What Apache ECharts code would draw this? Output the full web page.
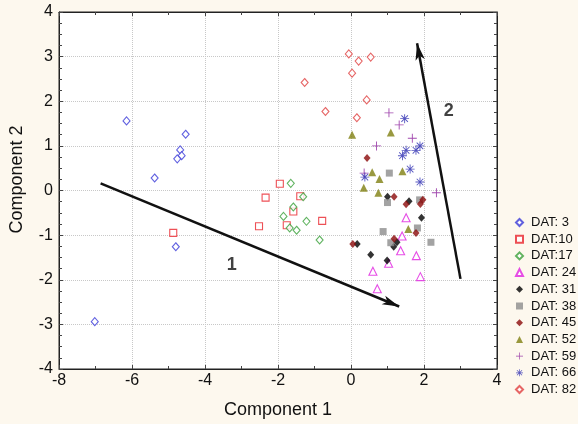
<!DOCTYPE html>
<html><head><meta charset="utf-8">
<script src="https://cdn.jsdelivr.net/npm/echarts@6/dist/echarts.min.js"></script>
<style>html,body{margin:0;padding:0;background:#fdf8ee;}#c{width:578px;height:424px;}</style>
</head><body><div id="c"></div>
<script>
const seriesNames = ['DAT: 3','DAT:10','DAT:17','DAT: 24','DAT: 31','DAT: 38','DAT: 45','DAT: 52','DAT: 59','DAT: 66','DAT: 82'];
const dat3  = [[-6.15,1.56],[-4.53,1.26],[-4.68,0.91],[-4.64,0.78],[-4.76,0.71],[-5.38,0.28],[-4.80,-1.26],[-7.02,-2.94]];
const dat10 = [[-1.95,0.15],[-2.34,-0.16],[-1.39,-0.13],[-1.58,-0.47],[-2.52,-0.80],[-1.76,-0.78],[-0.79,-0.68],[-4.87,-0.95]];
const dat17 = [[-1.65,0.16],[-1.31,-0.14],[-1.58,-0.37],[-1.85,-0.58],[-1.22,-0.69],[-1.68,-0.84],[-1.49,-0.89],[-0.86,-1.11]];
const dat24 = [[1.51,-0.61],[1.40,-1.02],[1.36,-1.35],[1.79,-1.46],[1.03,-1.63],[0.60,-1.81],[1.90,-1.93],[0.72,-2.20]];
const dat31 = [[1.00,-0.14],[1.59,-0.24],[1.93,-0.61],[1.26,-1.16],[1.17,-1.26],[0.17,-1.20],[0.54,-1.44],[0.99,-1.57]];
const dat38 = [[1.05,0.39],[1.00,-0.27],[1.88,-0.21],[1.82,-0.84],[0.88,-0.92],[1.09,-1.17],[2.19,-1.16]];
const dat45 = [[0.44,0.73],[1.18,-0.14],[1.51,-0.31],[1.97,-0.21],[1.90,-0.30],[1.78,-0.95],[1.18,-1.08],[0.05,-1.20]];
const dat52 = [[0.03,1.25],[1.09,1.30],[0.58,0.41],[0.78,0.26],[1.41,0.43],[0.35,0.06],[0.75,-0.05],[1.57,-0.86]];
const dat59 = [[1.04,1.74],[1.32,1.47],[1.68,1.17],[0.70,1.00],[0.36,0.39],[2.34,-0.05]];
const dat66 = [[1.47,1.61],[1.51,0.90],[1.78,0.90],[1.89,1.00],[1.41,0.78],[0.38,0.30],[1.62,0.48],[1.89,0.19]];
const dat82 = [[-0.06,3.06],[0.21,2.90],[0.54,2.99],[0.03,2.63],[0.43,2.03],[0.16,1.63],[-1.27,2.42],[-0.70,1.77]];
const arrow1 = [[-6.86,0.16],[1.32,-2.60]];
const arrow2 = [[3.00,-1.98],[1.81,3.30]];
const arrowLabels = [[-3.27,-1.68,'1'],[2.68,1.79,'2']];
const xTicks = {min:-8,max:4,interval:2};
const yTicks = {min:-4,max:4,interval:1};

const FONT = "'Liberation Sans', Arial, Helvetica, sans-serif";
const PLUS = 'path://M9 0 L11 0 L11 20 L9 20 Z M0 9 L20 9 L20 11 L0 11 Z';
const STAR = 'path://M9 0 L11 0 L11 20 L9 20 Z M0 9 L20 9 L20 11 L0 11 Z M3.4 2 L18 16.6 L16.6 18 L2 3.4 Z M16.6 2 L18 3.4 L3.4 18 L2 16.6 Z';

function hollow(name, data, symbol, color, size){
  return {name, type:'scatter', data, symbol, symbolSize:size,
    itemStyle:{color:'#ffffff', borderColor:color, borderWidth:1.1}, z:3};
}
function filled(name, data, symbol, color, size){
  return {name, type:'scatter', data, symbol, symbolSize:size,
    itemStyle:{color:color, borderWidth:0}, z:3};
}

const series = [
  hollow(seriesNames[0], dat3, 'diamond', '#3a3ad8', [7,8]),
  hollow(seriesNames[1], dat10, 'rect', '#e8242c', 7),
  hollow(seriesNames[2], dat17, 'diamond', '#3aa03a', [7,8]),
  hollow(seriesNames[3], dat24, 'triangle', '#e020e0', 8),
  filled(seriesNames[4], dat31, 'diamond', '#000000', [7,8]),
  filled(seriesNames[5], dat38, 'rect', '#8c8c8c', 7),
  filled(seriesNames[6], dat45, 'diamond', '#8b0a0a', [7,8]),
  filled(seriesNames[7], dat52, 'triangle', '#7f7f10', 8),
  filled(seriesNames[8], dat59, PLUS, '#8a1a9a', 9),
  filled(seriesNames[9], dat66, STAR, '#2a2ab0', 9),
  hollow(seriesNames[10], dat82, 'diamond', '#e04040', [7,8]),
  {name:'arrows', type:'scatter', data:arrowLabels.map(d=>[d[0],d[1],d[2]]), symbolSize:0, z:5,
    label:{show:true, position:'inside', formatter:p=>p.data[2], color:'#111', fontSize:18, fontWeight:'bold', fontFamily:FONT},
    markLine:{silent:true, symbol:['none','arrow'], symbolSize:[7,17], label:{show:false},
      lineStyle:{color:'#111', width:2.5, type:'solid'},
      data:[[{coord:arrow1[0]},{coord:arrow1[1]}],[{coord:arrow2[0]},{coord:arrow2[1]}]]}
  }
];

const axisCommon = {
  axisLine:{show:true, onZero:false, lineStyle:{color:'#222', width:1}},
  axisTick:{show:true, inside:true, length:4, lineStyle:{color:'#444'}},
};

const option = {
  animation:false,
  backgroundColor:'#fdf8ee',
  textStyle:{fontFamily:FONT},
  grid:{left:53, right:81, top:12, bottom:47, show:true, backgroundColor:'#ffffff', borderColor:'#222', borderWidth:1},
  legend:{
    data:seriesNames, orient:'vertical', left:515, top:216, padding:0, itemWidth:7, itemHeight:7, itemGap:3.7,
    textStyle:{fontSize:13, color:'#111', fontFamily:FONT, padding:[0,0,0,3]}
  },
  xAxis:[
    Object.assign({type:'value', min:xTicks.min, max:xTicks.max, interval:xTicks.interval,
      name:'Component 1', nameLocation:'middle', nameGap:32, nameTextStyle:{fontSize:18, color:'#111', fontFamily:FONT},
      axisLabel:{show:true, fontSize:16, color:'#111', margin:4, showMinLabel:true, showMaxLabel:true, fontFamily:FONT},
      splitLine:{show:true, lineStyle:{color:'#c8c8c8', type:'dotted', width:1}},
      minorTick:{show:true, splitNumber:2, length:3, lineStyle:{color:'#444'}}}, axisCommon),
    Object.assign({type:'value', position:'top', min:xTicks.min, max:xTicks.max, interval:xTicks.interval,
      axisLabel:{show:false}, splitLine:{show:false},
      minorTick:{show:true, splitNumber:2, length:3, lineStyle:{color:'#444'}}}, axisCommon)
  ],
  yAxis:[
    Object.assign({type:'value', min:yTicks.min, max:yTicks.max, interval:yTicks.interval,
      name:'Component 2', nameLocation:'middle', nameGap:33, nameTextStyle:{fontSize:18, color:'#111', fontFamily:FONT, padding:[0,0,0,22]},
      axisLabel:{show:true, fontSize:16, color:'#111', margin:6, showMinLabel:true, showMaxLabel:true, fontFamily:FONT},
      splitLine:{show:true, lineStyle:{color:'#c8c8c8', type:'dotted', width:1}},
      minorTick:{show:true, splitNumber:4, length:3, lineStyle:{color:'#444'}}}, axisCommon),
    Object.assign({type:'value', position:'right', min:yTicks.min, max:yTicks.max, interval:yTicks.interval,
      axisLabel:{show:false}, splitLine:{show:false},
      minorTick:{show:true, splitNumber:4, length:3, lineStyle:{color:'#444'}}}, axisCommon)
  ],
  series: series
};
const chart = echarts.init(document.getElementById('c'), null, {renderer:'canvas'});
chart.setOption(option);
</script>
</body></html>
